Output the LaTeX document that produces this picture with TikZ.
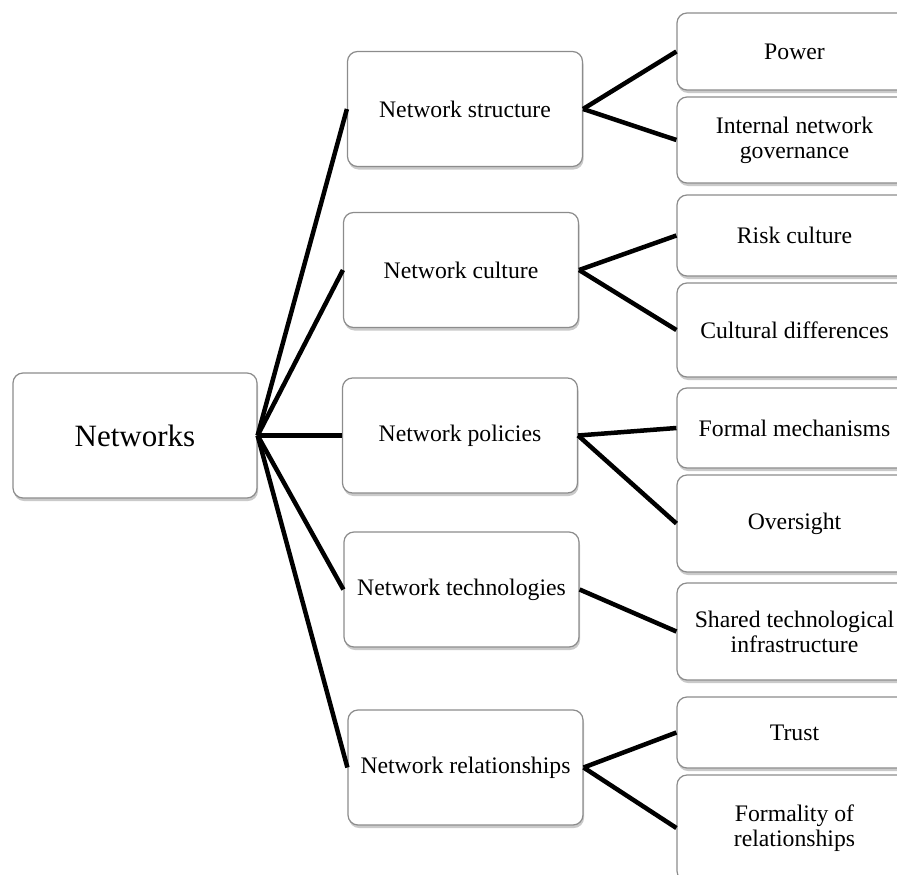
\documentclass[tikz,border=0pt]{standalone}
\usepackage{fontspec}
\setmainfont{Liberation Serif}
\usetikzlibrary{shadows}

\tikzset{
    box/.style={draw=black!45, line width=1.2pt, fill=white, rounded corners=10pt,
        align=center, inner sep=0pt, font=\fontsize{23.7}{25}\selectfont,
        drop shadow={shadow xshift=1pt, shadow yshift=-3pt, opacity=0.35, fill=black!60}},
    rootbox/.style={box, minimum width=244pt, minimum height=125pt, font=\fontsize{31}{34}\selectfont},
    midbox/.style={box, minimum width=235pt, minimum height=115pt},
    leafbox/.style={box, minimum width=235pt},
    link/.style={line width=4.5pt}
}

\begin{document}
\begin{tikzpicture}[x=1pt, y=-1pt]
    \useasboundingbox (0,0) rectangle (897,875);
    \node[rootbox] (net) at (135,435.5) {Networks};
    \node[midbox] (struct) at (465,109) {Network structure};
    \node[midbox] (cult) at (461,270) {Network culture};
    \node[midbox] (pol) at (460,435.5) {Network policies};
    \node[midbox] (tech) at (461.5,589.5) {Network technologies};
    \node[midbox] (rel) at (465.5,767.5) {Network relationships};
    \node[leafbox, minimum height=77pt] (power) at (794.5,51.5) {Power};
    \node[leafbox, minimum height=86pt] (gov) at (794.5,140) {Internal network\\governance};
    \node[leafbox, minimum height=81pt] (risk) at (794.5,235.5) {Risk culture};
    \node[leafbox, minimum height=94pt] (diff) at (794.5,330) {Cultural differences};
    \node[leafbox, minimum height=80pt] (formal) at (794.5,428) {Formal mechanisms};
    \node[leafbox, minimum height=97pt] (over) at (794.5,523.5) {Oversight};
    \node[leafbox, minimum height=97pt] (shared) at (794.5,631.5) {Shared technological\\infrastructure};
    \node[leafbox, minimum height=71pt] (trust) at (794.5,732.5) {Trust};
    \node[leafbox, minimum height=106pt] (formality) at (794.5,828) {Formality of\\relationships};
    \foreach \m in {struct,cult,pol,tech,rel}
        \draw[link] (net.east) -- (\m.west);
    \foreach \a/\b in {struct/power, struct/gov, cult/risk, cult/diff, pol/formal, pol/over,
        tech/shared, rel/trust, rel/formality}
        \draw[link] (\a.east) -- (\b.west);
\end{tikzpicture}
\end{document}
